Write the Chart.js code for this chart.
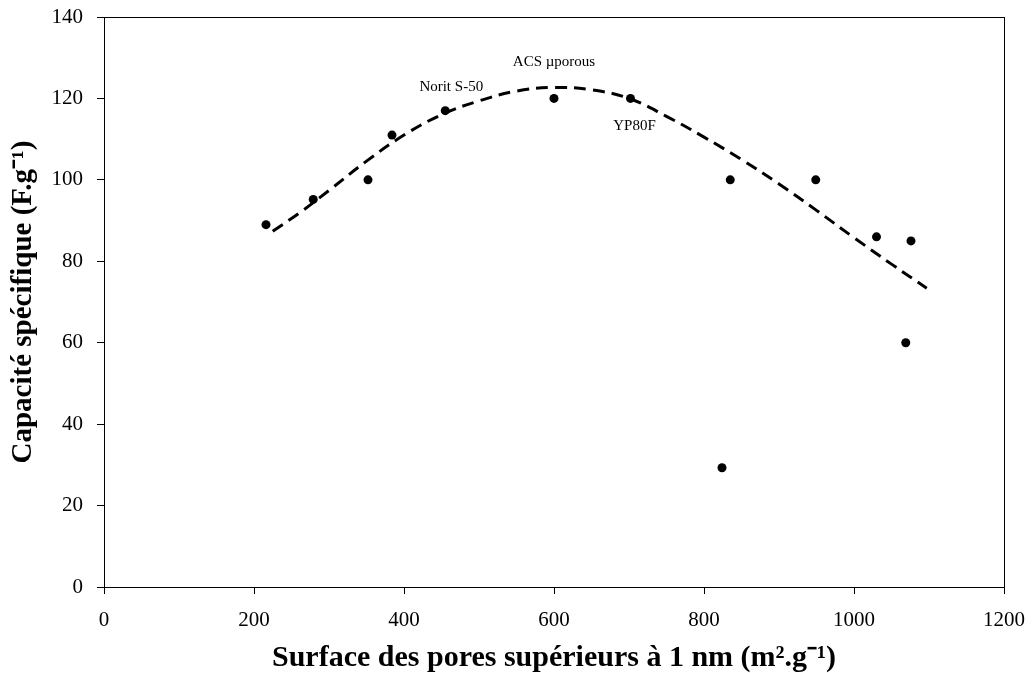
<!DOCTYPE html>
<html>
<head>
<meta charset="utf-8">
<script src="https://cdn.jsdelivr.net/npm/chart.js@4.4.0/dist/chart.umd.min.js"></script>
<style>
  html, body { margin: 0; padding: 0; background: #fff; }
  #wrap { width: 1035px; height: 673px; }
</style>
</head>
<body>
<div id="wrap"><canvas id="myChart" width="1035" height="673"></canvas></div>
<script>
// measured points
var surfaceX = [216, 279, 352, 384, 455, 600, 702, 835, 949, 1030, 1076, 1069, 824];
var capaciteY = [89, 95.2, 100, 111, 117, 120, 120, 100, 100, 86, 85, 60, 29.3];
var pointNames = ['', '', '', '', 'Norit S-50', 'ACS \u00b5porous', 'YP80F', '', '', '', '', '', ''];

// dashed trend curve
var trendX = [225, 260, 300, 350, 400, 450, 500, 550, 600, 650, 700, 750, 800, 850, 900, 950, 1000, 1050, 1097];
var trendY = [87.4, 91.8, 97.4, 104.6, 111.0, 116.0, 119.4, 121.8, 122.7, 122.1, 120.0, 115.6, 110.5, 105.0, 99.0, 92.5, 85.8, 79.3, 73.4];

var xTicks = [0, 200, 400, 600, 800, 1000, 1200];
var yTicks = [0, 20, 40, 60, 80, 100, 120, 140];

var serif = "'Liberation Serif', 'Times New Roman', serif";

function toXY(xs, ys) {
  return xs.map(function (x, i) { return {x: x, y: ys[i]}; });
}

// box around the plot area
var frame = {
  id: 'frame',
  afterDraw: function (chart) {
    var a = chart.chartArea, c = chart.ctx;
    c.save();
    c.strokeStyle = '#000';
    c.lineWidth = 1;
    c.strokeRect(a.left + 0.5, a.top + 0.5, a.right - a.left, a.bottom - a.top);
    c.restore();
  }
};

// sample names next to some points
var nameOffsets = {
  'Norit S-50': [6, -24],
  'ACS \u00b5porous': [0, -36],
  'YP80F': [4, 28]
};
var names = {
  id: 'names',
  afterDatasetsDraw: function (chart) {
    var c = chart.ctx, meta = chart.getDatasetMeta(1);
    c.save();
    c.fillStyle = '#000';
    c.font = '15px ' + serif;
    c.textAlign = 'center';
    c.textBaseline = 'middle';
    pointNames.forEach(function (n, i) {
      if (!n) return;
      var el = meta.data[i], off = nameOffsets[n];
      c.fillText(n, el.x + off[0], el.y + off[1]);
    });
    c.restore();
  }
};

var ctx = document.getElementById('myChart').getContext('2d');
var myChart = new Chart(ctx, {
  type: 'scatter',
  data: {
    datasets: [{
      data: toXY(trendX, trendY),
      showLine: true,
      borderColor: '#000',
      borderWidth: 3,
      borderDash: [12, 7],
      pointRadius: 0,
      tension: 0.4
    }, {
      data: toXY(surfaceX, capaciteY),
      backgroundColor: '#000',
      borderColor: '#000',
      pointRadius: 4.5,
      pointBorderWidth: 0
    }]
  },
  options: {
    responsive: false,
    animation: false,
    plugins: { legend: { display: false }, tooltip: { enabled: false } },
    layout: { padding: { top: 17, right: 31, left: 0, bottom: 0 } },
    scales: {
      x: {
        type: 'linear',
        min: 0, max: 1200,
        afterBuildTicks: function (s) { s.ticks = xTicks.map(function (v) { return {value: v}; }); },
        afterFit: function (s) { s.height = 86; s.paddingLeft = 0; s.paddingRight = 0; },
        border: { display: true, color: '#000', width: 1 },
        grid: { drawOnChartArea: false, color: '#000', tickLength: 7, tickColor: '#000' },
        ticks: {
          color: '#000', font: { family: serif, size: 21 }, padding: 14, maxRotation: 0,
          callback: function (v) { return String(v); }
        },
        title: {
          display: true,
          text: 'Surface des pores sup\u00e9rieurs \u00e0 1 nm (m\u00b2.g\u207b\u00b9)',
          color: '#000',
          font: { family: serif, size: 30, weight: 'bold' },
          padding: { top: 0, bottom: -3 }
        }
      },
      y: {
        type: 'linear',
        min: 0, max: 140,
        afterBuildTicks: function (s) { s.ticks = yTicks.map(function (v) { return {value: v}; }); },
        afterFit: function (s) { s.width = 104; s.paddingTop = 0; s.paddingBottom = 0; },
        border: { display: true, color: '#000', width: 1 },
        grid: { drawOnChartArea: false, color: '#000', tickLength: 7, tickColor: '#000' },
        ticks: {
          color: '#000', font: { family: serif, size: 21 }, padding: 14,
          callback: function (v) { return String(v); }
        },
        title: {
          display: true,
          text: 'Capacit\u00e9 sp\u00e9cifique (F.g\u207b\u00b9)',
          color: '#000',
          font: { family: serif, size: 29, weight: 'bold' },
          padding: { top: 6, bottom: 0 }
        }
      }
    }
  },
  plugins: [frame, names]
});
</script>
</body>
</html>
